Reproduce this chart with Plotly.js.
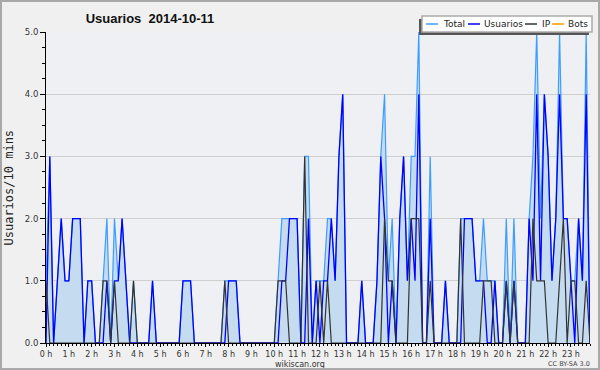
<!DOCTYPE html>
<html><head><meta charset="utf-8">
<script src="https://cdn.plot.ly/plotly-3.0.1.min.js"></script>
<style>
html,body{margin:0;padding:0;background:#f0f0f0;}
#wrap{position:relative;width:600px;height:370px;}
#chart{width:600px;height:370px;}
#frame{position:absolute;left:0;top:0;width:600px;height:370px;box-sizing:border-box;border:2px solid #a9a9a9;pointer-events:none;}
</style>
</head><body><div id="wrap"><div id="chart"></div><div id="frame"></div></div>
<script>
// 10-minute slots for 2014-10-11, 144 values each
const total = [1,3,0,1,2,1,1,2,2,2,
 0,1,1,0,0,1,2,0,2,1,
 2,1,0,1,0,0,0,0,1,0,
 0,0,0,0,0,0,1,1,1,0,
 0,0,0,0,0,0,0,1,1,1,
 1,0,0,0,0,0,0,0,0,0,
 0,1,2,2,2,2,2,0,3,3,
 0,1,1,1,2,2,1,3,4,0,
 0,0,0,1,0,0,0,1,3,4,
 1,2,0,2,3,1,3,3,5,0,
 0,3,0,0,0,1,0,0,0,2,
 2,2,2,1,1,2,1,1,1,0,
 0,2,0,2,0,0,0,2,3,5,
 2,4,3,1,2,5,2,2,1,1,
 2,1,5,0];
const usuarios = [0,3,0,1,2,1,1,2,2,2,
 0,1,1,0,0,0,1,0,1,1,
 2,1,0,0,0,0,0,0,1,0,
 0,0,0,0,0,0,1,1,1,0,
 0,0,0,0,0,0,0,0,1,1,
 1,0,0,0,0,0,0,0,0,0,
 0,0,1,1,2,2,2,0,0,2,
 0,1,0,1,1,2,1,3,4,0,
 0,0,0,1,0,0,0,1,3,2,
 0,1,0,2,3,1,2,1,4,0,
 0,2,0,0,0,1,0,0,0,0,
 2,2,2,1,1,1,0,0,1,0,
 0,1,0,1,0,0,0,2,1,4,
 1,4,3,1,2,4,2,2,1,0,
 2,1,4,0];
const ip = [1,0,0,0,0,0,0,0,0,0,
 0,0,0,0,0,1,1,0,1,0,
 0,0,0,1,0,0,0,0,0,0,
 0,0,0,0,0,0,0,0,0,0,
 0,0,0,0,0,0,0,1,0,0,
 0,0,0,0,0,0,0,0,0,0,
 0,1,1,1,0,0,0,0,3,0,
 0,0,1,0,1,0,0,0,0,0,
 0,0,0,0,0,0,0,0,0,2,
 1,1,0,0,0,0,2,2,2,0,
 0,1,0,0,0,0,0,0,0,2,
 0,0,0,0,0,1,1,1,0,0,
 0,1,0,1,0,0,0,0,2,1,
 1,1,0,0,0,1,2,0,1,1,
 0,0,1,0];
const bots = [0,0,0,0,0,0,0,0,0,0,
 0,0,0,0,0,0,0,0,0,0,
 0,0,0,0,0,0,0,0,0,0,
 0,0,0,0,0,0,0,0,0,0,
 0,0,0,0,0,0,0,0,0,0,
 0,0,0,0,0,0,0,0,0,0,
 0,0,0,0,0,0,0,0,0,0,
 0,0,0,0,0,0,0,0,0,0,
 0,0,0,0,0,0,0,0,0,0,
 0,0,0,0,0,0,0,0,0,0,
 0,0,0,0,0,0,0,0,0,0,
 0,0,0,0,0,0,0,0,0,0,
 0,0,0,0,0,0,0,0,0,0,
 0,0,0,0,0,0,0,0,0,0,
 0,0,0,0];
const seriesNames = ['Total','Usuarios','IP','Bots'];
const seriesColors = ['#3d9dff','#0000ff','#333333','#ff9900'];
const titleText = 'Usuarios\u00a0 2014-10-11';
const yTitle = 'Usuarios/10 mins';

const hours = total.map((_, i) => i / 6);  // slot start, in hours

// pixel -> paper helpers (plot area 46..590 x, 32..343 y)
const L = 46, R = 590, TOP = 32, BOT = 343;
const px = x => (x - L) / (R - L);
const py = y => (BOT - y) / (BOT - TOP);

const traces = [
  {x: hours, y: bots, type:'scatter', mode:'lines', name:seriesNames[3], line:{color:seriesColors[3], width:1}},
  {x: hours, y: total, type:'scatter', mode:'lines', name:seriesNames[0], fill:'tozeroy', fillcolor:'#c5dcf0', line:{color:seriesColors[0], width:1.2}},
  {x: hours, y: usuarios, type:'scatter', mode:'lines', name:seriesNames[1], line:{color:seriesColors[1], width:1.3}},
  {x: hours, y: ip, type:'scatter', mode:'lines', name:seriesNames[2], line:{color:seriesColors[2], width:1.2}}
];

// custom legend
const legItems = [
  {lx0:426, lx1:438, tx:441},
  {lx0:468, lx1:480, tx:482},
  {lx0:525, lx1:537, tx:540},
  {lx0:552, lx1:564, tx:566}
];
const shapes = [
  {type:'rect', xref:'paper', yref:'paper', x0:px(419), x1:px(589), y0:py(35), y1:py(19), fillcolor:'#555', line:{width:0}},
  {type:'rect', xref:'paper', yref:'paper', x0:px(422), x1:px(592), y0:py(32), y1:py(16), fillcolor:'#ffffff', line:{color:'#aaaaaa', width:1.5}}
];
const annotations = [];
legItems.forEach((it, k) => {
  shapes.push({type:'line', xref:'paper', yref:'paper', x0:px(it.lx0), x1:px(it.lx1), y0:py(24), y1:py(24), line:{color:seriesColors[k], width:1.5}});
  annotations.push({text:seriesNames[k], xref:'paper', yref:'paper', x:px(it.tx), y:py(24), xanchor:'left', yanchor:'middle', showarrow:false, font:{family:'DejaVu Sans', size:9, color:'#222'}});
});
annotations.push({text:yTitle, xref:'paper', yref:'paper', x:px(8), y:0.5, textangle:-90, xanchor:'center', yanchor:'middle', showarrow:false, font:{family:'DejaVu Sans Mono', size:12, color:'#222'}});
annotations.push({text:'wikiscan.org', xref:'paper', yref:'paper', x:px(300), y:py(364), xanchor:'center', yanchor:'middle', showarrow:false, borderpad:0, font:{family:'DejaVu Sans', size:8, color:'#333'}});
annotations.push({text:'CC BY-SA 3.0', xref:'paper', yref:'paper', x:px(591), y:py(364), xanchor:'right', yanchor:'middle', showarrow:false, borderpad:0, font:{family:'DejaVu Sans', size:6.5, color:'#444'}});

const layout = {
  width:600, height:370,
  margin:{l:L, r:600-R, t:TOP, b:370-BOT, pad:0},
  paper_bgcolor:'#f0f0f0', plot_bgcolor:'#eef0f3',
  showlegend:false,
  font:{family:'DejaVu Sans', size:9, color:'#333'},
  title:{text:'<b>'+titleText+'</b>', xref:'container', yref:'container', x:150/600, y:1-18/370, xanchor:'center', yanchor:'middle', font:{family:'Liberation Sans', size:13, color:'#111'}},
  xaxis:{range:[0, 143/6], tickmode:'linear', tick0:0, dtick:1, ticksuffix:' h', ticks:'outside', ticklen:3, tickcolor:'#000',
    showline:true, linecolor:'#000', linewidth:1, showgrid:false, zeroline:false, fixedrange:true,
    tickfont:{family:'DejaVu Sans', size:8, color:'#333'},
    minor:{tickmode:'linear', tick0:0, dtick:1/6, ticks:'outside', ticklen:2, tickcolor:'#000', showgrid:false}},
  yaxis:{range:[0,5], tickmode:'linear', tick0:0, dtick:1, tickformat:'.1f', ticks:'outside', ticklen:5, tickcolor:'#000',
    showline:true, linecolor:'#000', linewidth:1, showgrid:true, gridcolor:'#cfcfcf', gridwidth:1, zeroline:false, fixedrange:true,
    tickfont:{family:'DejaVu Sans', size:8.5, color:'#333'},
    minor:{tickmode:'linear', tick0:0, dtick:0.25, ticks:'outside', ticklen:3, tickcolor:'#000', showgrid:false}},
  shapes: shapes,
  annotations: annotations
};
Plotly.newPlot('chart', traces, layout, {displayModeBar:false, staticPlot:true});
</script>
</body></html>
